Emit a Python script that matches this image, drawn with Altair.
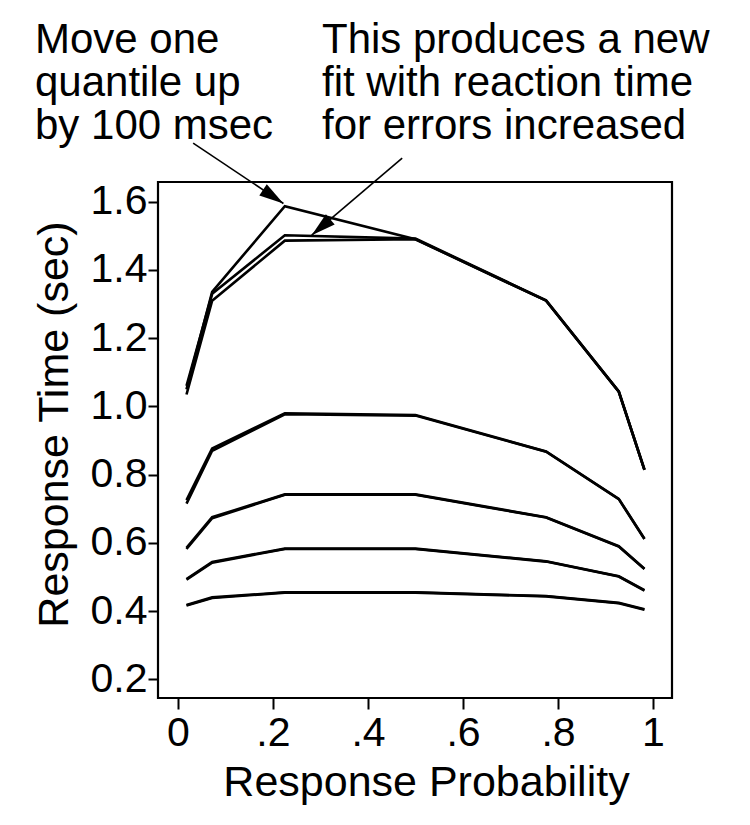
import altair as alt
import pandas as pd

# Response probability positions (defective CDF x positions)
prob = [0.018, 0.072, 0.225, 0.5, 0.775, 0.928, 0.982]

# Original fit, quantiles .1 .3 .5 .7 .9 (sec)
fit_q1 = [0.416, 0.438, 0.454, 0.454, 0.443, 0.423, 0.404]
fit_q3 = [0.492, 0.542, 0.582, 0.582, 0.545, 0.501, 0.460]
fit_q5 = [0.582, 0.672, 0.741, 0.741, 0.674, 0.589, 0.523]
fit_q7 = [0.715, 0.870, 0.977, 0.973, 0.867, 0.728, 0.611]
fit_q9 = [1.035, 1.310, 1.486, 1.490, 1.310, 1.043, 0.814]

# New fit (error reaction time increased)
new_q1 = [0.418, 0.440, 0.455, 0.455, 0.444, 0.424, 0.405]
new_q3 = [0.494, 0.544, 0.583, 0.583, 0.546, 0.502, 0.461]
new_q5 = [0.585, 0.675, 0.742, 0.742, 0.675, 0.590, 0.524]
new_q7 = [0.725, 0.877, 0.980, 0.975, 0.868, 0.729, 0.612]
new_q9 = [1.060, 1.330, 1.502, 1.492, 1.311, 1.044, 0.815]

# Data with one quantile moved up by 100 msec
moved_q9 = [1.050, 1.336, 1.587, 1.490, 1.310, 1.043, 0.814]

series = {
    "fit .1": fit_q1, "fit .3": fit_q3, "fit .5": fit_q5, "fit .7": fit_q7, "fit .9": fit_q9,
    "new .1": new_q1, "new .3": new_q3, "new .5": new_q5, "new .7": new_q7, "new .9": new_q9,
    "moved .9": moved_q9,
}

x_ticks = [0, 0.2, 0.4, 0.6, 0.8, 1.0]
y_ticks = [0.2, 0.4, 0.6, 0.8, 1.0, 1.2, 1.4, 1.6]

# Annotation arrows (data coordinates): start -> tip
arrow_x_start = [0.032, 0.472]
arrow_y_start = [1.772, 1.728]
arrow_x_tip = [0.222, 0.2815]
arrow_y_tip = [1.595, 1.502]
arrow_angle = [123.7, 229.4]

note_left = "Move one\nquantile up\nby 100 msec"
note_right = "This produces a new\nfit with reaction time\nfor errors increased"

rows = []
for name, vals in series.items():
    for p, v in zip(prob, vals):
        rows.append({"series": name, "p": p, "rt": v})
df = pd.DataFrame(rows)

arrows = pd.DataFrame({"x": arrow_x_start, "y": arrow_y_start,
                       "x2": arrow_x_tip, "y2": arrow_y_tip, "ang": arrow_angle})
notes = pd.DataFrame({"text": [note_left, note_right]})

FONT = "Liberation Sans"
x_scale = alt.Scale(domain=[-0.042, 1.04], nice=False, zero=False)
y_scale = alt.Scale(domain=[0.145, 1.658], nice=False, zero=False)

x_axis = alt.Axis(values=x_ticks, title="Response Probability", grid=False, domain=False,
                  labelExpr="datum.value == 0 ? '0' : datum.value == 1 ? '1' : replace(format(datum.value, '.1f'), '0.', '.')",
                  labelFont=FONT, labelFontSize=41, labelColor="black", labelPadding=4,
                  tickColor="black", tickWidth=2, tickSize=11,
                  titleFont=FONT, titleFontSize=43, titleFontWeight="normal", titleColor="black",
                  titleX=268, titleY=97, titleBaseline="alphabetic", titleAlign="center")
y_axis = alt.Axis(values=y_ticks, format=".1f", title="Response Time (sec)", grid=False, domain=False,
                  labelFont=FONT, labelFontSize=41, labelColor="black", labelPadding=1,
                  tickColor="black", tickWidth=2, tickSize=10,
                  titleFont=FONT, titleFontSize=43, titleFontWeight="normal", titleColor="black",
                  titleX=-91, titleY=242, titleBaseline="alphabetic", titleAlign="center", titleAngle=270)

lines = alt.Chart(df).mark_line(color="black", strokeWidth=2.6).encode(
    x=alt.X("p:Q", scale=x_scale, axis=x_axis),
    y=alt.Y("rt:Q", scale=y_scale, axis=y_axis),
    detail="series:N",
)

arrow_lines = alt.Chart(arrows).mark_rule(color="black", strokeWidth=1.6).encode(
    x=alt.X("x:Q", scale=x_scale, axis=x_axis),
    y=alt.Y("y:Q", scale=y_scale, axis=y_axis),
    x2="x2:Q", y2="y2:Q",
)

arrow_heads = alt.Chart(arrows).mark_point(
    shape="M0,0 L-0.55,2 L0.55,2 Z", filled=True, size=600, color="black", opacity=1, strokeWidth=0
).encode(
    x=alt.X("x2:Q", scale=x_scale, axis=x_axis),
    y=alt.Y("y2:Q", scale=y_scale, axis=y_axis),
    angle=alt.Angle("ang:Q", scale=None),
)

text_style = dict(align="left", baseline="alphabetic", font=FONT, fontSize=42, lineHeight=43,
                  lineBreak="\n", color="black")
note_l = alt.Chart(notes.iloc[[0]]).mark_text(**text_style).encode(
    x=alt.value(-123), y=alt.value(-129), text="text:N")
note_r = alt.Chart(notes.iloc[[1]]).mark_text(**text_style).encode(
    x=alt.value(164), y=alt.value(-129), text="text:N")

chart = alt.layer(lines, arrow_lines, arrow_heads, note_l, note_r).properties(
    width=514, height=516, autosize="none",
    padding={"left": 150, "top": 174, "right": 70, "bottom": 110},
).configure(background="white").configure_view(stroke="black", strokeWidth=2.2)

chart.save("out.html", embed_options={"renderer": "svg", "actions": False})
